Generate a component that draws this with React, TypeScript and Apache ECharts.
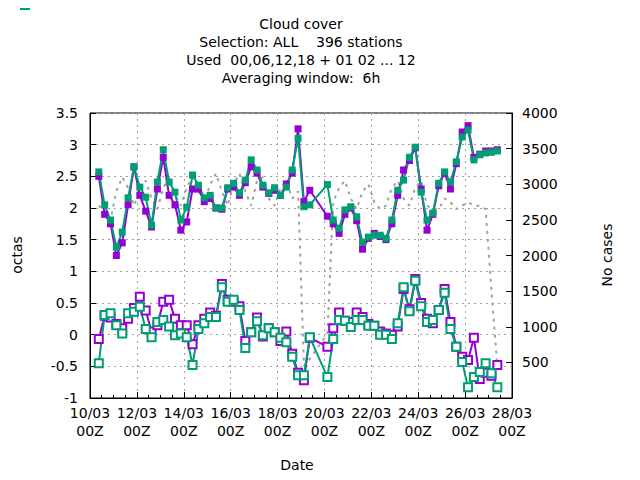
import { useEffect, useRef } from 'react';
import * as echarts from 'echarts';

// 6-hourly steps; k index, day = 0.375 + 0.25k (days since 10/03 00Z)
const steps = [
  0, 1, 2, 3, 4, 5, 6, 7, 8, 9, 10, 11, 12, 13, 14, 15, 16, 17, 18, 19, 20, 21, 22, 23, 24, 25, 26, 27, 28, 29,
  30, 31, 32, 33, 34, 35, 36, 39, 40, 41, 42, 43, 44, 45, 46, 47, 48, 49, 50, 51, 52, 53, 54, 55, 56, 57, 58,
  59, 60, 61, 62, 63, 64, 65, 66, 67, 68,
];
const stdvProd = [
  2.5, 1.9, 1.75, 1.25, 1.45, 2.05, 2.65, 2.2, 1.95, 1.7, 2.3, 2.8, 2.2, 2.05, 1.65, 1.78, 2.3, 2.3, 2.1, 2.15,
  2.0, 1.98, 2.3, 2.33, 2.2, 2.4, 2.65, 2.55, 2.33, 2.23, 2.28, 2.2, 2.38, 2.55, 3.25, 2.1, 2.28, 1.87, 1.75,
  1.6, 1.9, 2.0, 1.8, 1.35, 1.52, 1.6, 1.55, 1.5, 1.75, 2.2, 2.6, 2.75, 2.95, 2.3, 1.65, 1.9, 2.35, 2.55, 2.3,
  2.7, 3.2, 3.3, 2.8, 2.85, 2.9, 2.9, 2.92,
];
const stdvPreop = [
  2.57, 2.05, 1.81, 1.38, 1.62, 2.16, 2.65, 2.33, 2.17, 1.73, 2.41, 2.92, 2.41, 2.25, 1.81, 2.01, 2.52, 2.36,
  2.16, 2.2, 2.0, 2.0, 2.32, 2.39, 2.24, 2.44, 2.76, 2.6, 2.36, 2.24, 2.32, 2.2, 2.33, 2.6, 3.1, 2.02, 2.05,
  2.37, 1.81, 1.68, 1.97, 2.02, 1.86, 1.46, 1.54, 1.57, 1.57, 1.52, 1.81, 2.28, 2.44, 2.8, 2.96, 2.25, 1.81,
  1.92, 2.39, 2.57, 2.41, 2.73, 3.12, 3.23, 2.76, 2.84, 2.87, 2.88, 2.9,
];
const biasProd = [
  -0.07, 0.3, 0.27, 0.17, 0.1, 0.25, 0.42, 0.6, 0.38, 0.05, 0.15, 0.52, 0.55, 0.25, 0.15, 0.15, -0.15, 0.15,
  0.25, 0.35, 0.3, 0.8, 0.55, 0.52, 0.45, -0.1, 0.04, 0.27, -0.03, 0.1, 0.04, -0.1, 0.05, -0.3, -0.6, -0.72,
  -0.05, -0.19, 0.1, 0.35, 0.22, 0.2, 0.35, 0.28, 0.17, 0.14, 0.05, 0.02, 0.0, 0.13, 0.72, 0.4, 0.88, 0.5,
  0.25, 0.18, 0.39, 0.72, 0.2, -0.19, -0.35, -0.4, -0.05, -0.7, -0.6, -0.65, -0.48,
];
const biasPreop = [
  -0.45, 0.31, 0.34, 0.15, 0.02, 0.34, 0.36, 0.44, 0.09, -0.04, 0.2, 0.23, 0.13, -0.01, 0.02, -0.04, -0.48,
  0.09, 0.18, 0.28, 0.28, 0.75, 0.52, 0.55, 0.39, -0.21, 0.04, 0.21, -0.01, 0.1, 0.04, -0.05, -0.12, -0.35,
  -0.64, -0.64, -0.04, -0.67, -0.07, 0.23, 0.22, 0.12, 0.23, 0.23, 0.14, 0.14, 0.0, 0.0, -0.07, 0.18, 0.75,
  0.37, 0.85, 0.45, 0.2, 0.23, 0.39, 0.66, 0.09, -0.19, -0.43, -0.83, -0.67, -0.59, -0.45, -0.61, -0.83,
];
const cases = [
  2700, 2600, 2500, 2900, 3100, 2950, 2700, 2900, 3050, 2800, 2650, 2950, 3100, 2850, 2700, 2950, 3100, 2900,
  2750, 3000, 3150, 2900, 2700, 3000, 3150, 2900, 2700, 3050, 3100, 2800, 2700, 2950, 3050, 2800, 2900, 450,
  550, 900, 2750, 2950, 3050, 2800, 2650, 2900, 3000, 2750, 2650, 2700, 2950, 3050, 2800, 2700, 2950, 3050,
  2700, 2650, 2650, 2800, 2750, 2650, 2700, 2750, 2700, 2700, 2650, 1500, 450,
];
const titleLines = ['Cloud cover', 'Selection: ALL    396 stations', 'Used  00,06,12,18 + 01 02 ... 12', 'Averaging window:  6h'];

const PURPLE = '#9400d3';
const GREEN = '#009e73';
const FONT = 'DejaVu Sans';

const days = steps.map((k) => 0.375 + 0.25 * k);
const pts = (vals: number[]) => vals.map((v, i) => [days[i], v]);

const App = () => {
  const chartRef = useRef<HTMLDivElement>(null);

  useEffect(() => {
    if (!chartRef.current) return;
    const chart = echarts.init(chartRef.current, null, { renderer: 'svg' });
    const axisText = { color: '#000', fontFamily: FONT, fontSize: 14 };
    const option = {
      animation: false,
      textStyle: { fontFamily: FONT },
      graphic: [
        ...titleLines.map((t, i) => ({
          type: 'text',
          x: 301,
          y: 17 + i * 18,
          style: { text: t, fill: '#000', font: `14px ${FONT}`, textAlign: 'center' },
        })),
        { type: 'text', x: 297, y: 458, style: { text: 'Date', fill: '#000', font: `14px ${FONT}`, textAlign: 'center' } },
        { type: 'text', x: 10, y: 255, rotation: Math.PI / 2, style: { text: 'octas', fill: '#000', font: `14px ${FONT}`, textAlign: 'center' } },
        { type: 'text', x: 600, y: 255, rotation: Math.PI / 2, style: { text: 'No cases', fill: '#000', font: `14px ${FONT}`, textAlign: 'center' } },
      ],
      grid: { left: 90, right: 128, top: 113, bottom: 82, show: true, borderColor: '#000', borderWidth: 1 },
      legend: {
        right: 138,
        top: 116,
        orient: 'vertical',
        align: 'right',
        itemWidth: 50,
        itemHeight: 10,
        itemGap: 2,
        textStyle: {
          fontFamily: FONT,
          fontSize: 16,
          lineHeight: 17,
          color: '#000',
          rich: { s: { fontSize: 14, lineHeight: 17, padding: [10, 0, 0, 0], fontFamily: FONT } },
        },
        formatter: (name: string) => name.replace('_p', '{s|p}'),
        data: [
          'STDV MNWC_prod',
          'STDV MNWC2_preop',
          'BIAS MNWC_prod',
          'BIAS MNWC2_preop',
          { name: 'CASES', icon: 'path://M0,0L1,0' },
        ],
      },
      xAxis: {
        type: 'value',
        min: 0,
        max: 18,
        interval: 2,
        axisLine: { onZero: false, lineStyle: { color: '#000' } },
        axisTick: { inside: true, length: 6, lineStyle: { color: '#000' } },
        minorTick: { show: true, splitNumber: 4, length: 3, lineStyle: { color: '#000' } },
        axisLabel: {
          ...axisText,
          margin: 6,
          lineHeight: 18,
          formatter: (v: number) => `${String(10 + v).padStart(2, '0')}/03\n00Z`,
        },
        splitLine: { show: true, lineStyle: { color: '#a0a0a0', type: [2, 4] } },
      },
      yAxis: [
        {
          type: 'value',
          min: -1,
          max: 3.5,
          interval: 0.5,
          axisLine: { show: true, lineStyle: { color: '#000' } },
          axisTick: { show: true, inside: true, length: 6, lineStyle: { color: '#000' } },
          axisLabel: { ...axisText, margin: 12 },
          splitLine: { show: true, lineStyle: { color: '#a0a0a0', type: [2, 4] } },
        },
        {
          type: 'value',
          min: 0,
          max: 4000,
          interval: 500,
          axisLine: { show: true, lineStyle: { color: '#000' } },
          axisTick: { show: true, inside: true, length: 6, lineStyle: { color: '#000' } },
          axisLabel: { ...axisText, margin: 10, formatter: (v: number) => (v === 0 ? '' : String(v)) },
          splitLine: { show: false },
        },
      ],
      series: [
        {
          name: 'STDV MNWC_prod', type: 'line', data: pts(stdvProd), symbol: 'rect', symbolSize: 7,
          lineStyle: { color: PURPLE, width: 2 }, itemStyle: { color: PURPLE },
        },
        {
          name: 'STDV MNWC2_preop', type: 'line', data: pts(stdvPreop), symbol: 'rect', symbolSize: 7,
          lineStyle: { color: GREEN, width: 2 }, itemStyle: { color: GREEN },
        },
        {
          name: 'BIAS MNWC_prod', type: 'line', data: pts(biasProd), symbol: 'emptyRect', symbolSize: 8,
          lineStyle: { color: PURPLE, width: 2 }, itemStyle: { color: PURPLE, borderWidth: 2 },
        },
        {
          name: 'BIAS MNWC2_preop', type: 'line', data: pts(biasPreop), symbol: 'emptyRect', symbolSize: 8,
          lineStyle: { color: GREEN, width: 2 }, itemStyle: { color: GREEN, borderWidth: 2 },
        },
        {
          name: 'CASES', type: 'line', yAxisIndex: 1, data: pts(cases), showSymbol: false, symbol: 'none', z: 1,
          lineStyle: { color: '#a0a0a0', width: 2, type: [3, 5] }, itemStyle: { color: '#a0a0a0' },
        },
      ],
    };
    chart.setOption(option);
    return () => chart.dispose();
  }, []);

  return <div ref={chartRef} style={{ width: 640, height: 480, margin: -8 }} />;
};

export default App;
